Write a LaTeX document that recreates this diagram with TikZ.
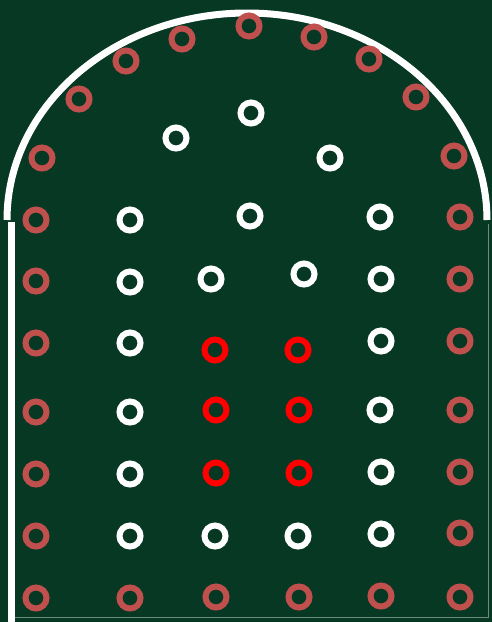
\documentclass[tikz,border=0pt]{standalone}
\definecolor{bggreen}{HTML}{063823}
\definecolor{rosy}{HTML}{C0504D}
\definecolor{brightred}{HTML}{FF0000}
\definecolor{edgeline}{HTML}{6E8A7C}
\tikzset{
  ring/.style={circle,draw=#1,line width=6pt,minimum size=21pt,inner sep=0pt},
  outline/.style={draw=white,line width=7pt},
}
\begin{document}
\begin{tikzpicture}[x=1pt,y=-1pt]
\useasboundingbox (0,0) rectangle (492,622);
\fill[bggreen] (0,0) rectangle (492,622);
% faint frame edges
\draw[edgeline,line width=0.8pt] (488,224) -- (488,617) -- (15,617);
% white outline: arch and left side
\coordinate (archL) at (7,220);
\coordinate (archR) at (487,220);
\draw[outline] (archL) arc[start angle=180,end angle=0,x radius=240,y radius=-207];
\draw[outline] (11,222) -- (11,622);
% rosy circles
\foreach \x/\y [count=\i] in {42/158,79/99,126/61,182/39,249/26,314/37,369/59,416/97,454/156,
  36/220,36/281,36/343,36/412,36/474,36/536,36/598,
  460/217,460/279,460/341,460/410,460/472,460/533,460/597,
  130/598,216/597,299/597,381/596}
  \node[ring=rosy] (r\i) at (\x,\y) {};
% white circles
\foreach \x/\y [count=\i] in {251/113,176/138,330/158,
  130/220,250/216,380/217,
  130/282,211/279,304/274,381/279,
  130/343,381/341,130/412,380/410,130/474,381/472,
  130/536,215/536,298/536,381/534}
  \node[ring=white] (w\i) at (\x,\y) {};
% red circles
\foreach \x/\y [count=\i] in {215/350,298/350,216/410,299/410,216/473,299/473}
  \node[ring=brightred] (c\i) at (\x,\y) {};
\end{tikzpicture}
\end{document}
